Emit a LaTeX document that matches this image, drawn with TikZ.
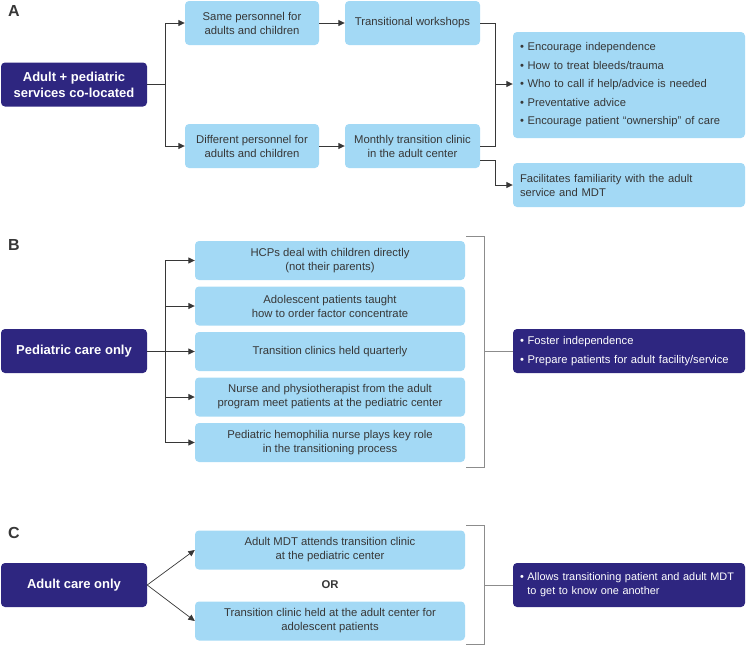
\documentclass[tikz,border=0pt]{standalone}
\usepackage{fontspec}
\setmainfont{Liberation Sans}
\usepackage{xcolor}
\usetikzlibrary{arrows.meta}
\definecolor{navy}{RGB}{46, 38, 128}
\definecolor{sky}{RGB}{163, 217, 245}
\definecolor{ink}{RGB}{55, 55, 55}
\definecolor{gr}{RGB}{140, 140, 140}

\begin{document}
\begin{tikzpicture}[x=1pt, y=-1pt,
    dark/.style={fill=navy, text=white, rounded corners=4pt, inner sep=0pt, align=center,
        font=\fontsize{13}{16}\selectfont\bfseries, minimum width=146pt, minimum height=44pt},
    light/.style={fill=sky, text=ink, rounded corners=4pt, inner sep=0pt, align=center,
        font=\fontsize{11.3}{14}\selectfont},
    darklist/.style={fill=navy, text=white, rounded corners=4pt, inner ysep=0pt, inner xsep=7pt,
        align=left, text width=218pt, minimum height=44pt},
    lightlist/.style={fill=sky, text=ink, rounded corners=4pt, inner ysep=0pt, inner xsep=7pt,
        align=left, text width=218pt},
    sec/.style={font=\fontsize{16}{18}\selectfont\bfseries, text=ink},
    arr/.style={draw=ink, line width=0.9pt, -{Triangle[length=6.5pt, width=6pt]}},
    ln/.style={draw=ink, line width=0.9pt},
    brk/.style={draw=gr, line width=1pt}]
    \useasboundingbox (0,0) rectangle (747,648);

    % A
    \node[sec] (la) at (14,11) {A};
    \node[dark] (boxA) at (74,84.5) {Adult + pediatric\\services co-located};
    \node[light, minimum width=134pt, minimum height=44pt] (same) at (252,23) {Same personnel for\\adults and children};
    \node[light, minimum width=134pt, minimum height=44pt] (diff) at (252,146) {Different personnel for\\adults and children};
    \node[light, minimum width=135pt, minimum height=44pt] (work) at (412.5,23) {Transitional workshops};
    \node[light, minimum width=135pt, minimum height=44pt] (monthly) at (412.5,146) {Monthly transition clinic\\in the adult center};
    \node[lightlist, minimum height=106pt, font=\fontsize{11.2}{18.5}\selectfont] (listA) at (629,85) {%
        \textbullet\ Encourage independence\\
        \textbullet\ How to treat bleeds/trauma\\
        \textbullet\ Who to call if help/advice is needed\\
        \textbullet\ Preventative advice\\
        \textbullet\ Encourage patient “ownership” of care};
    \node[lightlist, minimum height=44pt, font=\fontsize{11.2}{14}\selectfont] (famil) at (629,185) {Facilitates familiarity with the adult\\service and MDT};

    \coordinate (ja) at (165,84.5);
    \coordinate (jb) at (495,84);
    \draw[ln] (boxA.east) -- (ja);
    \draw[arr] (ja) |- (same.west);
    \draw[arr] (ja) |- (diff.west);
    \draw[arr] (same) -- (work);
    \draw[arr] (diff) -- (monthly);
    \draw[ln] (work.east) -| (jb);
    \draw[ln] (monthly.east) -| (jb);
    \draw[arr] (jb) -- (listA.west |- jb);
    \draw[arr] ([yshift=-14pt]monthly.east) -- ++(15,0) |- (famil.west);

    % B
    \node[sec] (lb) at (14,245) {B};
    \node[dark] (boxB) at (74,351) {Pediatric care only};
    \node[light, minimum width=270pt, minimum height=39pt] (b1) at (330,260.5) {HCPs deal with children directly\\(not their parents)};
    \node[light, minimum width=270pt, minimum height=39pt] (b2) at (330,306) {Adolescent patients taught\\how to order factor concentrate};
    \node[light, minimum width=270pt, minimum height=39pt] (b3) at (330,351.5) {Transition clinics held quarterly};
    \node[light, minimum width=270pt, minimum height=39pt] (b4) at (330,397) {Nurse and physiotherapist from the adult\\program meet patients at the pediatric center};
    \node[light, minimum width=270pt, minimum height=39pt] (b5) at (330,442.5) {Pediatric hemophilia nurse plays key role\\in the transitioning process};
    \node[darklist, font=\fontsize{11.2}{18.5}\selectfont] (listB) at (629,351) {%
        \textbullet\ Foster independence\\
        \textbullet\ Prepare patients for adult facility/service};

    \coordinate (jc) at (165,351);
    \draw[ln] (boxB.east) -- (jc);
    \foreach \i in {1,...,5}
        \draw[arr] (jc) |- (b\i.west);
    \coordinate (bt) at (466,236);
    \coordinate (bb) at (466,467);
    \draw[brk] (bt) -- ++(18,0) |- (bb);
    \draw[brk] (listB.west) -- ++(-29,0);

    % C
    \node[sec] (lc) at (14,533) {C};
    \node[dark] (boxC) at (74,585) {Adult care only};
    \node[light, minimum width=270pt, minimum height=39pt] (c1) at (330,550) {Adult MDT attends transition clinic\\at the pediatric center};
    \node[light, font=\fontsize{11.3}{14}\selectfont\bfseries, fill=none] (or) at (330,585) {OR};
    \node[light, minimum width=270pt, minimum height=39pt] (c2) at (330,621) {Transition clinic held at the adult center for\\adolescent patients};
    \node[darklist, text width=226pt, inner xsep=3pt, font=\fontsize{10.9}{14}\selectfont] (listC) at (629,585) {%
        \hspace{4pt}\textbullet\ Allows transitioning patient and adult MDT\\
        \hspace{4pt}\phantom{\textbullet\ }to get to know one another};

    \draw[arr, line width=0.7pt] (boxC.east) -- (c1.west);
    \draw[arr, line width=0.7pt] (boxC.east) -- (c2.west);
    \coordinate (ct) at (466,525);
    \coordinate (cb) at (466,644);
    \draw[brk] (ct) -- ++(18,0) |- (cb);
    \draw[brk] (listC.west) -- ++(-29,0);
\end{tikzpicture}
\end{document}
